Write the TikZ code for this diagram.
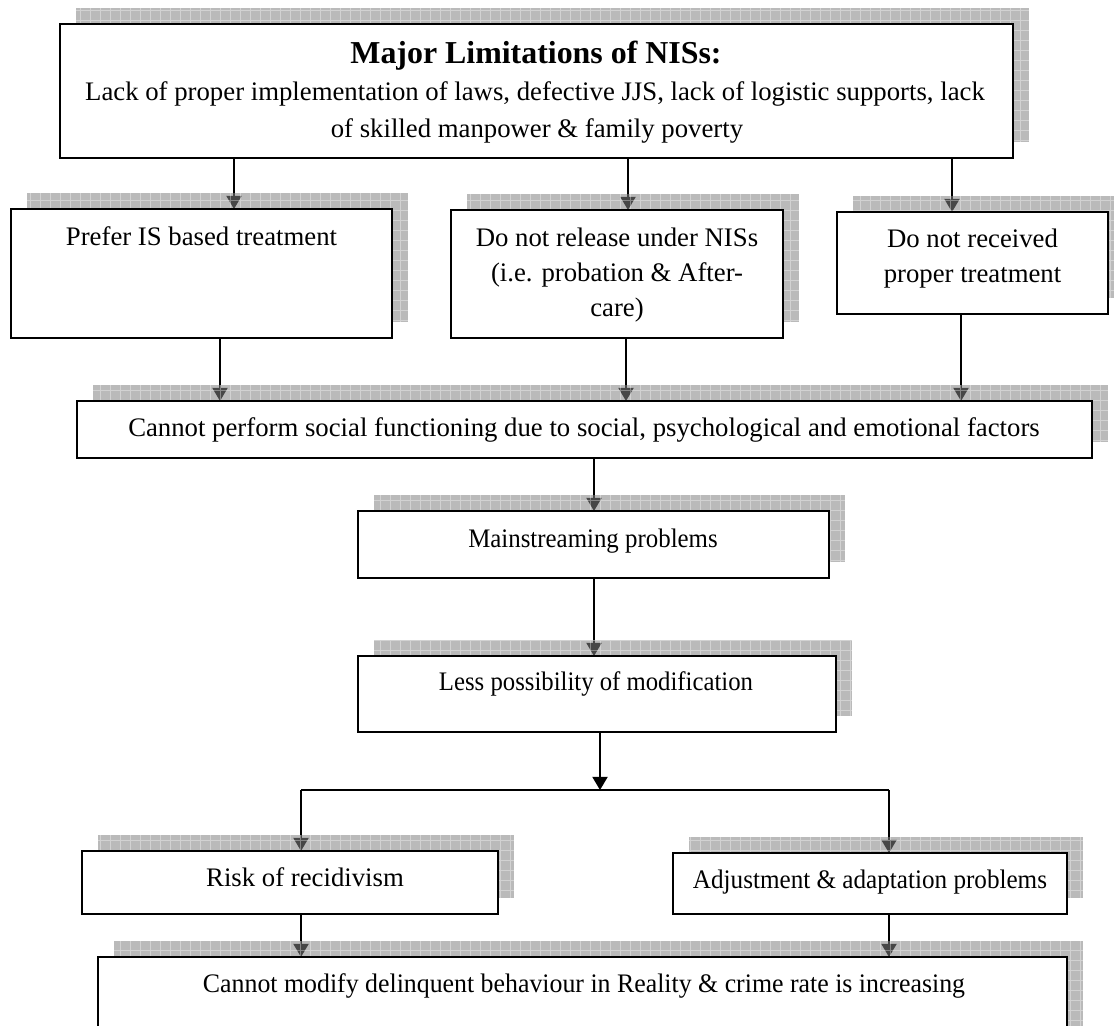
\documentclass[tikz,border=0pt]{standalone}
\usepackage{graphicx}
\usepackage{fontspec}
\setmainfont{Liberation Serif}
\usetikzlibrary{arrows.meta}
\newlength\pxu
\setlength\pxu{0.486pt}
\pgfdeclarelayer{links}
\pgfdeclarelayer{shade}
\pgfsetlayers{links,shade,main}
\tikzset{
  box/.style={draw=black, line width=0.75pt, fill=white, rectangle, inner sep=0pt, outer sep=0pt},
  txt/.style={anchor=base, inner sep=0pt, font=\fontsize{13}{15}\selectfont},
  ttl/.style={anchor=base, inner sep=0pt, font=\fontsize{15.5}{18}\selectfont\bfseries},
  link/.style={line width=0.65pt, -{Triangle[length=6.4pt,width=7.4pt]}},
  plain/.style={line width=0.65pt},
  shadefill/.style={fill=black!49, fill opacity=0.55},
  shadegrid/.style={draw=white, line width=0.35pt, draw opacity=0.35}
}
% text set a little narrower than its natural width
\newcommand\narrow[2]{\scalebox{#1}[1]{#2}}
% hatched drop shadow, shifted up and to the right of a box
\newcommand\dropshade[1]{%
  \begin{pgfonlayer}{shade}
    \path[shadefill] ([shift={(16,-16)}]#1.south west) rectangle ([shift={(16,-16)}]#1.north east);
    \begin{scope}
      \clip ([shift={(16,-16)}]#1.south west) rectangle ([shift={(16,-16)}]#1.north east);
      \draw[shadegrid, step=10\pxu] ([shift={(16,-16)}]#1.south west) grid ([shift={(16,-16)}]#1.north east);
    \end{scope}
  \end{pgfonlayer}}
\begin{document}
\begin{tikzpicture}[x=0.486pt,y=-0.486pt]
\useasboundingbox (0,0) rectangle (1114,1025);

% boxes
\node[box, minimum width=953\pxu, minimum height=134\pxu] (top) at (536.5,91) {};
\node[box, minimum width=381\pxu, minimum height=129\pxu] (prefer) at (201.5,273.5) {};
\node[box, minimum width=332\pxu, minimum height=128\pxu] (release) at (617,274) {};
\node[box, minimum width=271\pxu, minimum height=102\pxu] (received) at (972.5,263) {};
\node[box, minimum width=1015\pxu, minimum height=57\pxu] (perform) at (584.5,429.5) {};
\node[box, minimum width=471\pxu, minimum height=67\pxu] (mainstr) at (593.5,544.5) {};
\node[box, minimum width=478\pxu, minimum height=76\pxu] (less) at (597,694) {};
\node[box, minimum width=416\pxu, minimum height=63\pxu] (risk) at (290,882.5) {};
\node[box, minimum width=394\pxu, minimum height=61\pxu] (adjust) at (870,883.5) {};
\node[box, minimum width=969\pxu, minimum height=103\pxu] (modify) at (582.5,1008.5) {};

\foreach \b in {top,prefer,release,received,perform,mainstr,less,risk,adjust,modify}{\dropshade{\b}}

% texts
\node[ttl] (topA) at (536,64) {Major Limitations of NISs:};
\node[txt] (topB) at (535,101) {Lack of proper implementation of laws, defective JJS, lack of logistic supports, lack};
\node[txt] (topC) at (537,137) {of skilled manpower \& family poverty};
\node[txt] (preferA) at (201.5,245) {Prefer IS based treatment};
\node[txt] (releaseA) at (617,246) {Do not release under NISs};
\node[txt] (releaseB) at (617,281) {(i.e. probation \& After-};
\node[txt] (releaseC) at (617,316) {care)};
\node[txt] (receivedA) at (972.5,247) {Do not received};
\node[txt] (receivedB) at (972.5,282) {proper treatment};
\node[txt] (performA) at (584,436) {Cannot perform social functioning due to social, psychological and emotional factors};
\node[txt] (mainstrA) at (593,547) {\narrow{0.93}{Mainstreaming problems}};
\node[txt] (lessA) at (596,690) {\narrow{0.925}{Less possibility of modification}};
\node[txt] (riskA) at (305,886) {Risk of recidivism};
\node[txt] (adjustA) at (870,888) {\narrow{0.94}{Adjustment \& adaptation problems}};
\node[txt] (modifyA) at (584,992) {\narrow{0.966}{Cannot modify delinquent behaviour in Reality \& crime rate is increasing}};

% connector columns and the branch point
\coordinate (c1) at (234,0);
\coordinate (c2) at (628,0);
\coordinate (c3) at (952,0);
\coordinate (c4) at (220,0);
\coordinate (c5) at (626,0);
\coordinate (c6) at (961,0);
\coordinate (c7) at (594,0);
\coordinate (c8) at (600,0);
\coordinate (j)  at (600,790);
\coordinate (jl) at (301,790);
\coordinate (jr) at (889,790);

\begin{pgfonlayer}{links}
  \draw[link] (top.south -| c1) -- (prefer.north -| c1);
  \draw[link] (top.south -| c2) -- (release.north -| c2);
  \draw[link] (top.south -| c3) -- (received.north -| c3);
  \draw[link] (prefer.south -| c4) -- (perform.north -| c4);
  \draw[link] (release.south -| c5) -- (perform.north -| c5);
  \draw[link] (received.south -| c6) -- (perform.north -| c6);
  \draw[link] (perform.south -| c7) -- (mainstr.north -| c7);
  \draw[link] (mainstr.south -| c7) -- (less.north -| c7);
  \draw[link] (less.south -| c8) -- (j);
  \draw[plain] (jl) -- (jr);
  \draw[link] (jl) -- (risk.north -| jl);
  \draw[link] (jr) -- (adjust.north -| jr);
  \draw[link] (risk.south -| jl) -- (modify.north -| jl);
  \draw[link] (adjust.south -| jr) -- (modify.north -| jr);
\end{pgfonlayer}
\end{tikzpicture}
\end{document}
